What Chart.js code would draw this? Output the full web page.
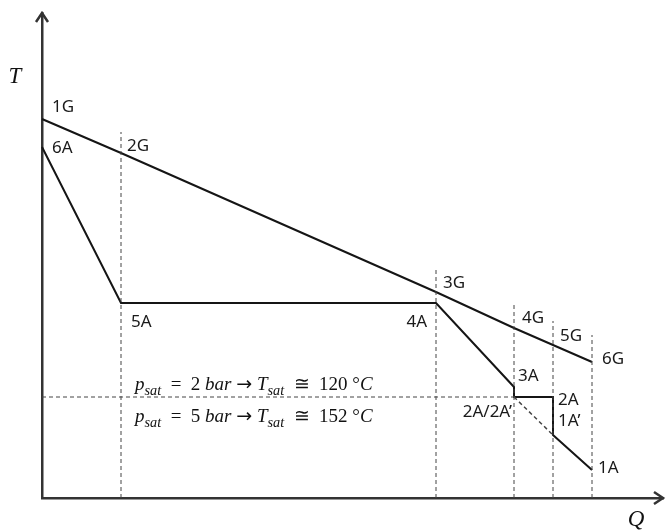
<!DOCTYPE html>
<html>
<head>
<meta charset="utf-8">
<script src="https://cdn.jsdelivr.net/npm/chart.js@4/dist/chart.umd.min.js"></script>
<style>
  html, body { margin: 0; padding: 0; background: #fff; }
  canvas { display: block; }
</style>
</head>
<body>
<canvas id="tq" width="666" height="530"></canvas>
<script>
// T-Q diagram, arbitrary units (Q along x, T along y)
var gasQ = [0, 79, 394, 472, 511, 550];
var gasT = [379, 345, 206, 170, 153, 136];
var gasLabels = ['1G', '2G', '3G', '4G', '5G', '6G'];

var waterQ = [0, 79, 394, 472, 472, 511, 511, 550];
var waterT = [351, 195, 195, 111, 101, 101, 63, 28];
var waterLabels = ['6A', '5A', '4A', '3A', "2A/2A\u2019", '2A', "1A\u2019", '1A'];

// dashed guides
var stationQ = [79, 394, 472, 511, 550];
var stationTop = [366, 230, 195, 177, 163];
var satT = 101;
var satEndQ = 472;
var bypassQ = [472, 511];
var bypassT = [101, 63];

var satPressure = [2, 5];
var satTemp = [120, 152];

// label offsets in px [dx, dy, align]
var gasOffsets = [[10, -12, 'left'], [6, -7, 'left'], [7, -9, 'left'], [8, -10, 'left'], [7, -9, 'left'], [10, -3, 'left']];
var waterOffsets = [[10, 1, 'left'], [10, 19, 'left'], [-9, 19, 'right'], [4, -11, 'left'], [-2, 15, 'right'], [5, 3, 'left'], [5, -14, 'left'], [6, -2, 'left']];

function pts(xs, ys) {
  return xs.map(function (x, i) { return {x: x, y: ys[i]}; });
}

function solid(data) {
  return {data: data, showLine: true, borderColor: '#151515', borderWidth: 2, pointRadius: 0, clip: false, tension: 0};
}
function dashed(data, w) {
  return {data: data, showLine: true, borderColor: '#444', borderWidth: w || 1, borderDash: [4, 3], pointRadius: 0, clip: false, tension: 0};
}

var datasets = [];
stationQ.forEach(function (q, i) {
  datasets.push(dashed([{x: q, y: 0}, {x: q, y: stationTop[i]}]));
});
datasets.push(dashed([{x: 0, y: satT}, {x: satEndQ, y: satT}]));
datasets.push(dashed(pts(bypassQ, bypassT), 1.5));
datasets.push(solid(pts(gasQ, gasT)));
datasets.push(solid(pts(waterQ, waterT)));

function drawRuns(ctx, runs, x, y, size) {
  runs.forEach(function (r) {
    var fs = r.sub ? size * 0.75 : size;
    var fam = r.sym ? '"DejaVu Sans"' : '"Liberation Serif"';
    ctx.font = (r.it ? 'italic ' : '') + fs + 'px ' + fam;
    ctx.fillText(r.t, x, y + (r.sub ? size * 0.28 : 0));
    x += ctx.measureText(r.t).width;
  });
}

var labelsPlugin = {
  id: 'tqLabels',
  afterDraw: function (chart) {
    var ctx = chart.ctx, xs = chart.scales.x, ys = chart.scales.y, area = chart.chartArea;
    ctx.save();

    // arrow heads on the axes
    ctx.strokeStyle = '#333';
    ctx.lineWidth = 2.5;
    ctx.beginPath();
    ctx.moveTo(area.left - 6, area.top + 9);
    ctx.lineTo(area.left, area.top);
    ctx.lineTo(area.left + 6, area.top + 9);
    ctx.moveTo(area.right - 9, area.bottom - 6);
    ctx.lineTo(area.right, area.bottom);
    ctx.lineTo(area.right - 9, area.bottom + 6);
    ctx.stroke();

    // axis names
    ctx.fillStyle = '#111';
    ctx.textBaseline = 'middle';
    ctx.textAlign = 'center';
    ctx.font = 'italic 23px "Liberation Serif"';
    ctx.fillText('T', 15, 77);
    ctx.fillText('Q', 636, 520);

    // point names
    ctx.font = '17px "Noto Sans"';
    ctx.fillStyle = '#1a1a1a';
    function put(qs, ts, names, offs) {
      names.forEach(function (n, i) {
        ctx.textAlign = offs[i][2];
        ctx.fillText(n, xs.getPixelForValue(qs[i]) + offs[i][0], ys.getPixelForValue(ts[i]) + offs[i][1]);
      });
    }
    put(gasQ, gasT, gasLabels, gasOffsets);
    put(waterQ, waterT, waterLabels, waterOffsets);

    // saturation notes
    ctx.textAlign = 'left';
    ctx.textBaseline = 'alphabetic';
    ctx.fillStyle = '#111';
    var yLine = ys.getPixelForValue(satT);
    var x0 = area.left + 93;
    satPressure.forEach(function (p, i) {
      var runs = [
        {t: 'p', it: 1}, {t: 'sat', it: 1, sub: 1},
        {t: '  =  ' + p + ' '}, {t: 'bar', it: 1},
        {t: ' '}, {t: '\u2192', sym: 1}, {t: ' '}, {t: 'T', it: 1}, {t: 'sat', it: 1, sub: 1},
        {t: '  \u2245  ' + satTemp[i] + ' \u00B0'}, {t: 'C', it: 1}
      ];
      drawRuns(ctx, runs, x0, i === 0 ? yLine - 7 : yLine + 25, 19);
    });
    ctx.restore();
  }
};

new Chart(document.getElementById('tq'), {
  type: 'scatter',
  data: {datasets: datasets},
  options: {
    responsive: false,
    animation: false,
    layout: {padding: {left: 42, top: 13, right: 3, bottom: 32}},
    plugins: {legend: {display: false}, tooltip: {enabled: false}},
    scales: {
      x: {
        type: 'linear', min: 0, max: 621,
        ticks: {display: false},
        grid: {display: false, drawTicks: false},
        border: {color: '#333', width: 2.5}
      },
      y: {
        type: 'linear', min: 0, max: 485,
        ticks: {display: false},
        grid: {display: false, drawTicks: false},
        border: {color: '#333', width: 2.5}
      }
    }
  },
  plugins: [labelsPlugin]
});
</script>
</body>
</html>
